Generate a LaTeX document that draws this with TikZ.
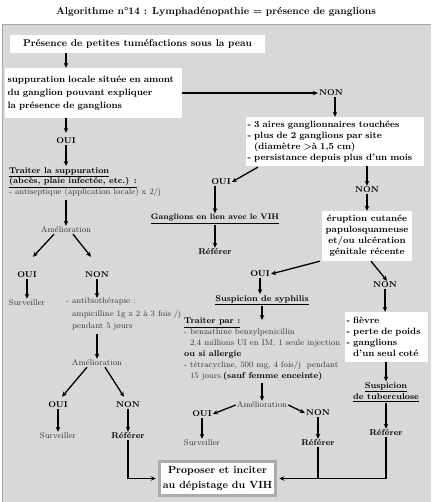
\documentclass[tikz,border=0pt]{standalone}
\usetikzlibrary{arrows.meta}
\definecolor{panel}{RGB}{216,216,216}
\definecolor{lightink}{RGB}{55,55,55}
\tikzset{
  wbox/.style={fill=white, inner sep=0pt, font=\fontsize{9.2}{11}\selectfont\bfseries},
  lab/.style={inner sep=1pt, font=\fontsize{8.4}{10}\selectfont\bfseries},
  lt/.style={inner sep=1pt, text=lightink, font=\fontsize{8.3}{10}\selectfont},
  arr/.style={line width=1.3pt, -{Stealth[length=5pt,width=4.5pt]}},
  conn/.style={line width=1.3pt},
}
\newcommand{\lightx}[1]{{\fontsize{8.3}{9}\selectfont\mdseries\color{lightink}#1}}
\begin{document}
\begin{tikzpicture}[x=1pt,y=-1pt]
\useasboundingbox (0,0) rectangle (431,502);
\fill[white] (0,0) rectangle (431,502);
\fill[panel] (2,24) rectangle (431,502);
\draw[gray!70, line width=0.8pt] (2,502) -- (2,24) -- (431,24);
% title
\node[font=\fontsize{10.1}{11}\selectfont\bfseries] (title) at (216,12) {Algorithme n°14 : Lymphadénopathie = présence de ganglions};
% boxes
\node[wbox, font=\fontsize{9.9}{11}\selectfont\bfseries, minimum width=255pt, minimum height=18pt] (b1) at (137.5,44) {Présence de petites tuméfactions sous la peau};
\node[wbox, text width=172pt, minimum height=50pt, align=left, inner xsep=2.5pt, font=\fontsize{9.3}{13}\selectfont\bfseries] (b2) at (93.5,93) {suppuration locale située en amont\\du ganglion pouvant expliquer\\la présence de ganglions};
\node[lab] (non1) at (331,93) {NON};
\node[wbox, text width=175pt, minimum height=49pt, align=left, inner xsep=1.5pt] (b3) at (335,141.5) {- 3 aires ganglionnaires touchées\\- plus de 2 ganglions par site\\\hphantom{- }(diamètre >à 1,5 cm)\\- persistance depuis plus d'un mois};
% left column
\node[lab] (oui1) at (66,141) {OUI};
\node[anchor=north west, inner sep=0pt, align=left, font=\fontsize{8.4}{10.5}\selectfont\bfseries] (t1) at (9,167) {\underline{Traiter la suppuration}\\\underline{(abcès, plaie infectée, etc.) :}\\\lightx{- antiseptique (application locale) x 2/j}};
\node[lt] (am1) at (66,230) {Amélioration};
\node[lab] (oui2) at (27,275) {OUI};
\node[lab] (non2) at (97,275) {NON};
\node[lt] (surv1) at (27,303) {Surveiller};
\node[lt, anchor=north west, align=left, inner sep=0pt, font=\fontsize{8.3}{12.5}\selectfont] (anti) at (66,298) {- antibiothérapie :\\\hphantom{- }ampicilline 1g x 2 à 3 fois /j\\\hphantom{- }pendant 5 jours};
\node[lt] (am2) at (97,363) {Amélioration};
\node[lab] (oui3) at (58,405) {OUI};
\node[lab] (non3) at (128,405) {NON};
\node[lt] (surv2) at (58,436) {Surveiller};
\node[lab] (ref1) at (128,436) {Référer};
% proposer
\node[fill=white, draw=gray!65, line width=3.5pt, minimum width=116pt, minimum height=34pt, align=center, inner sep=0pt, font=\fontsize{10.4}{15}\selectfont\bfseries] (prop) at (217.5,478.5) {Proposer et inciter\\au dépistage du VIH};
% middle column
\node[lab] (oui4) at (221,182) {OUI};
\node[lab, font=\fontsize{8}{10}\selectfont\bfseries] (gang) at (215,219) {\underline{Ganglions en lien avec le VIH}};
\node[lab] (ref2) at (215,252) {Référer};
\node[lab] (non4) at (367,190) {NON};
\node[wbox, minimum width=90pt, minimum height=50pt, align=center] (b4) at (367,236) {éruption cutanée\\papulosquameuse\\et/ou ulcération\\génitale récente};
\node[lab] (oui5) at (260,274) {OUI};
\node[lab] (syph) at (262,300) {\underline{Suspicion de syphilis}};
\node[anchor=north west, inner sep=0pt, align=left, font=\fontsize{8.4}{11}\selectfont\bfseries] (trait) at (184,318) {\underline{Traiter par :}\\\lightx{- benzathine benzylpenicillin}\\\lightx{\hphantom{- }2,4 millions UI en IM, 1 seule injection}\\ou si allergie\\\lightx{- tétracycline, 500 mg, 4 fois/j\ \ pendant}\\\lightx{\hphantom{- }15 jours.}(sauf femme enceinte)};
\node[lt] (am3) at (262,405) {Amélioration};
\node[lab] (oui6) at (202,414) {OUI};
\node[lab] (non6) at (318,413) {NON};
\node[lt] (surv3) at (202,443) {Surveiller};
\node[lab] (ref3) at (318,443) {Référer};
% right column
\node[lab] (non5) at (385,285) {NON};
\node[wbox, text width=80pt, minimum height=50pt, align=left, inner xsep=1.5pt] (b5) at (386.5,337) {- fièvre\\- perte de poids\\- ganglions\\\hphantom{- }d'un seul coté};
\node[lab, align=center, font=\fontsize{8.4}{11}\selectfont\bfseries] (tub) at (386,392) {\underline{Suspicion}\\\underline{de tuberculose}};
\node[lab] (ref4) at (386,433) {Référer};
% connectors
\draw[arr] (b1.south -| oui1) -- (b2.north -| oui1);
\draw[arr] (b2.east) -- (non1.west);
\draw[arr] ([xshift=4pt]non1.south) -- ([xshift=4pt]non1.south |- b3.north);
\draw[arr] (b2.south -| oui1) -- ([yshift=4pt]oui1.north);
\draw[arr] (oui1.south) -- ([yshift=1pt]oui1 |- t1.north);
\draw[arr] ([yshift=-4pt]am1 |- t1.south) -- (am1.north);
\draw[arr] ([xshift=-12pt]am1.south) -- ([shift={(6pt,14pt)}]oui2.north);
\draw[arr] ([xshift=7pt]am1.south) -- ([shift={(-6pt,14pt)}]non2.north);
\draw[arr] (oui2.south) -- (surv1.north);
\draw[arr] (non2.south) -- (non2.south |- anti.north);
\draw[arr] ([yshift=-3pt]am2 |- anti.south) -- (am2.north);
\draw[arr] ([xshift=-10pt]am2.south) -- ([shift={(4pt,4pt)}]oui3.north);
\draw[arr] ([xshift=8pt]am2.south) -- ([shift={(-4pt,4pt)}]non3.north);
\draw[arr] (oui3.south) -- (surv2.north);
\draw[arr] (non3.south) -- (ref1.north);
\draw[arr] ([shift={(12pt,-1pt)}]b3.south west) -- (oui4.east);
\draw[arr] (non4 |- b3.south) -- (non4.north);
\draw[arr] ([xshift=-6pt]oui4.south) -- ([xshift=-6pt]oui4.south |- gang.north);
\draw[arr] (gang.south) -- (ref2.north);
\draw[arr] (non4.south) -- (b4.north);
\draw[arr] ([xshift=-2pt]b4.south west) -- (oui5.east);
\draw[arr] ([xshift=4pt]b4.south) -- ([xshift=2pt]non5.north);
\draw[arr] (non5.south) -- (non5.south |- b5.north);
\draw[arr] (oui5.south) -- (oui5.south |- syph.north);
\draw[arr] (syph.south) -- ([yshift=-2pt]syph.south |- trait.north);
\draw[arr] ([yshift=-2pt]am3 |- trait.south) -- (am3.north);
\draw[arr] (am3.west) -- (oui6.east);
\draw[arr] (am3.east) -- (non6.west);
\draw[arr] (oui6.south) -- (surv3.north);
\draw[arr] (non6.south) -- (ref3.north);
\draw[arr] (tub |- b5.south) -- (tub.north);
\draw[arr] (tub.south) -- (ref4.north);
\draw[arr] (ref1.south) |- ([xshift=-2pt]prop.west);
\draw[arr] (ref4.south) |- ([xshift=2pt]prop.east);
\draw[conn] (ref3.south) -- (ref3.south |- prop.east);
\end{tikzpicture}
\end{document}
